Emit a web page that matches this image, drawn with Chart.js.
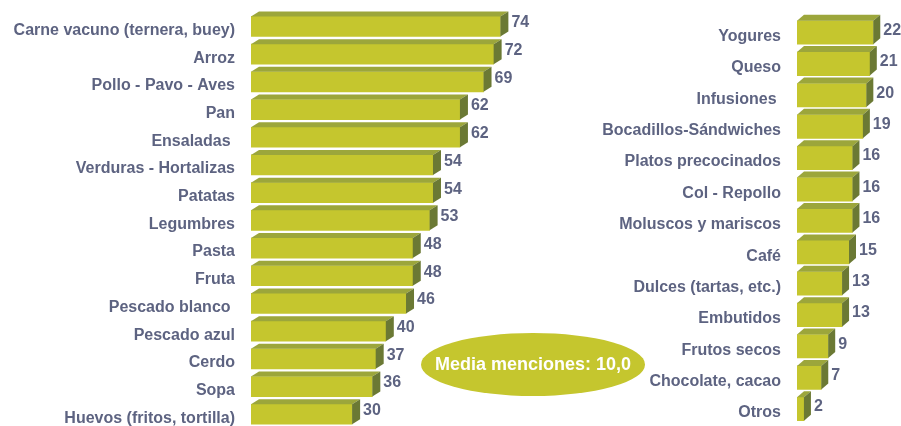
<!DOCTYPE html>
<html>
<head>
<meta charset="utf-8">
<script src="https://cdn.jsdelivr.net/npm/chart.js@4"></script>
<style>
  html, body { margin: 0; padding: 0; background: #fff; overflow: hidden; width: 901px; height: 426px; }
  #wrap { position: relative; width: 901px; height: 426px; overflow: hidden; }
  canvas { position: absolute; top: 0; }
  #left { left: 0; }
  #right { left: 560px; }
  #media {
    position: absolute; left: 421px; top: 333px; width: 224px; height: 63px;
    border-radius: 50%; background: #c5c62e; color: #fff;
    font: bold 18px "Liberation Sans", Arial, sans-serif;
    display: flex; align-items: center; justify-content: center;
  }
</style>
</head>
<body>
<div id="wrap">
  <canvas id="left" width="588" height="440"></canvas>
  <canvas id="right" width="341" height="440"></canvas>
  <div id="media">Media menciones: 10,0</div>
</div>
<script>
// Left panel
const leftLabels = ['Carne vacuno (ternera, buey)', 'Arroz', 'Pollo - Pavo - Aves', 'Pan', 'Ensaladas ',
  'Verduras - Hortalizas', 'Patatas', 'Legumbres', 'Pasta', 'Fruta', 'Pescado blanco ',
  'Pescado azul', 'Cerdo', 'Sopa', 'Huevos (fritos, tortilla)'];
const leftValues = [74, 72, 69, 62, 62, 54, 54, 53, 48, 48, 46, 40, 37, 36, 30];

// Right panel
const rightLabels = ['Yogures', 'Queso', 'Infusiones ', 'Bocadillos-Sándwiches', 'Platos precocinados',
  'Col - Repollo', 'Moluscos y mariscos', 'Café', 'Dulces (tartas, etc.)', 'Embutidos',
  'Frutos secos', 'Chocolate, cacao', 'Otros'];
const rightValues = [22, 21, 20, 19, 16, 16, 16, 15, 13, 13, 9, 7, 2];

const FRONT = '#c5c62e';
const TOP = '#9ca63b';
const SIDE = '#6b7934';
const TEXT = '#5d6381';
const FONT = '"Liberation Sans", Arial, sans-serif';

// draws the top and side faces of each bar plus the value label
const bar3d = {
  id: 'bar3d',
  afterDatasetsDraw(chart, args, opts) {
    const ctx = chart.ctx;
    const dx = opts.dx, dy = opts.dy;
    const meta = chart.getDatasetMeta(0);
    const values = chart.data.datasets[0].data;
    ctx.save();
    meta.data.forEach((bar, i) => {
      const p = bar.getProps(['x', 'y', 'base', 'height'], true);
      const top = p.y - p.height / 2;
      const bottom = p.y + p.height / 2;
      ctx.fillStyle = TOP;
      ctx.beginPath();
      ctx.moveTo(p.base, top);
      ctx.lineTo(p.base + dx, top - dy);
      ctx.lineTo(p.x + dx, top - dy);
      ctx.lineTo(p.x, top);
      ctx.closePath();
      ctx.fill();
      ctx.fillStyle = SIDE;
      ctx.beginPath();
      ctx.moveTo(p.x, top);
      ctx.lineTo(p.x + dx, top - dy);
      ctx.lineTo(p.x + dx, bottom - dy);
      ctx.lineTo(p.x, bottom);
      ctx.closePath();
      ctx.fill();
      ctx.fillStyle = TEXT;
      ctx.font = 'bold 16px ' + FONT;
      ctx.textAlign = 'left';
      ctx.textBaseline = 'middle';
      ctx.fillText(values[i], p.x + dx + 3, p.y - dy / 2 + opts.labelShift);
    });
    ctx.restore();
  }
};

function makeChart(el, labels, values, cfg) {
  return new Chart(el, {
    type: 'bar',
    data: {
      labels: labels,
      datasets: [{
        data: values,
        backgroundColor: FRONT,
        borderWidth: 0,
        barThickness: cfg.thickness,
      }],
    },
    options: {
      indexAxis: 'y',
      responsive: false,
      animation: false,
      layout: { padding: { top: cfg.top, bottom: cfg.bottom, left: 0, right: 0 } },
      plugins: {
        legend: { display: false },
        tooltip: { enabled: false },
        bar3d: { dx: cfg.dx, dy: cfg.dy, labelShift: cfg.labelShift },
      },
      scales: {
        x: { display: false, min: 0, max: cfg.max },
        y: {
          afterFit: (s) => {
            s.width = cfg.axisWidth;
            // keep the tick padding from eating into the plot height
            s.paddingTop = 0;
            s.paddingBottom = 0;
          },
          grid: { display: false, drawTicks: false },
          border: { display: false },
          ticks: {
            color: TEXT,
            padding: 16,
            labelOffset: cfg.labelOffset,
            autoSkip: false,
            font: { family: FONT, size: 16, weight: 'bold' },
          },
        },
      },
    },
    plugins: [bar3d],
  });
}

makeChart(document.getElementById('left'), leftLabels, leftValues, {
  thickness: 20, top: 12.6, bottom: 440 - 428.1, max: 100, axisWidth: 251,
  dx: 8, dy: 5, labelOffset: 4, labelShift: -1,
});

makeChart(document.getElementById('right'), rightLabels, rightValues, {
  thickness: 23.5, top: 16.8, bottom: 440 - 424.7, max: 30, axisWidth: 237,
  dx: 7, dy: 6, labelOffset: 4, labelShift: 1,
});
</script>
</body>
</html>
